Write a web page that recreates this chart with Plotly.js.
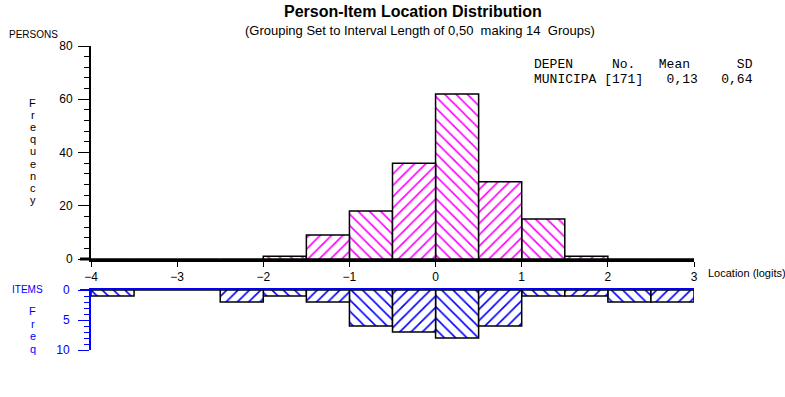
<!DOCTYPE html>
<html>
<head>
<meta charset="utf-8">
<script src="https://cdn.plot.ly/plotly-3.0.1.min.js"></script>
<style>html,body{margin:0;padding:0;background:#fff;}#chart{width:785px;height:397px;}</style>
</head>
<body>
<div id="chart"></div>
<script>
// ---- data ----
const binLower = [-4, -3.5, -3, -2.5, -2, -1.5, -1, -0.5, 0, 0.5, 1, 1.5, 2, 2.5];
const personFreq = [0, 0, 0, 0, 1, 9, 18, 36, 62, 29, 15, 1, 0, 0];
const itemFreq = [1, 0, 0, 2, 1, 2, 6, 7, 8, 6, 1, 1, 2, 2];
const xTickVals = [-4, -3, -2, -1, 0, 1, 2, 3];
const personTicks = [0, 20, 40, 60, 80];
const itemTicks = [0, 5, 10];
const statsHeader = "DEPEN     No.   Mean      SD";
const statsRow = "MUNICIPA [171]   0,13   0,64";

// ---- layout helpers (pixel -> paper) ----
const L = 91, R = 694, T = 46, B = 350;
const px = v => (v - L) / (R - L);
const py = v => (B - v) / (B - T);

const font = "Liberation Sans, Arial, sans-serif";
const mono = "Liberation Mono, DejaVu Sans Mono, monospace";
const magenta = "#ff00ff", blue = "#0000ff";

function hatchTrace(values, parity, shape, color, xa, ya) {
  return {
    type: "bar", x: binLower, y: values.map((v, i) => (i % 2 === parity ? v : null)),
    width: 0.5, offset: 0, xaxis: xa, yaxis: ya,
    marker: {color: "#ffffff", line: {color: "#000", width: 1.5},
      pattern: {shape: shape, fgcolor: color, bgcolor: "#ffffff", size: 8, solidity: 0.2}},
    hoverinfo: "skip"
  };
}

const traces = [
  hatchTrace(personFreq, 0, "\\", magenta, "x", "y"),
  hatchTrace(personFreq, 1, "/", magenta, "x", "y"),
  hatchTrace(itemFreq, 0, "\\", blue, "x2", "y2"),
  hatchTrace(itemFreq, 1, "/", blue, "x2", "y2")
];

const topDomain = [py(259), 1];
const botDomain = [0, py(290)];

const base = {xref: "paper", yref: "paper", showarrow: false, xanchor: "center", yanchor: "middle"};
const annotations = [
  {text: "<b>Person-Item Location Distribution</b>", x: px(413), y: py(12), font: {family: font, size: 16, color: "#000"}},
  {text: "(Grouping Set to Interval Length of 0,50  making 14  Groups)", x: px(420), y: py(31), font: {family: font, size: 13, color: "#000"}},
  {text: "PERSONS", x: px(7), y: py(34), xanchor: "left", font: {family: font, size: 10, color: "#000"}},
  {text: "Location (logits)", x: px(706), y: py(273), xanchor: "left", font: {family: font, size: 11, color: "#000"}},
  {text: "ITEMS", x: px(10), y: py(289), xanchor: "left", font: {family: font, size: 10, color: blue}},
  {text: statsHeader.replace(/ /g, "&nbsp;"), x: px(532), y: py(64), xanchor: "left", font: {family: mono, size: 13, color: "#000"}},
  {text: statsRow.replace(/ /g, "&nbsp;"), x: px(532), y: py(79), xanchor: "left", font: {family: mono, size: 13, color: "#000"}}
];
"Frequency".split("").forEach((c, i) => annotations.push({text: c, x: px(33), y: py(103 + 12.1 * i), font: {family: font, size: 11, color: "#000"}}));
"Freq".split("").forEach((c, i) => annotations.push({text: c, x: px(33), y: py(311 + 12.6 * i), font: {family: font, size: 11, color: blue}}));

const layout = {
  width: 785, height: 397,
  margin: {l: L, r: 785 - R, t: T, b: 397 - B, pad: 0},
  paper_bgcolor: "#fff", plot_bgcolor: "rgba(0,0,0,0)",
  showlegend: false, bargap: 0, barmode: "overlay",
  font: {family: font, size: 11, color: "#000"},
  xaxis: {
    domain: [0, 1], range: [-4, 3], anchor: "y",
    tickvals: xTickVals, ticks: "outside", ticklen: 5, tickwidth: 1, tickcolor: "#000",
    showline: true, linecolor: "#000", linewidth: 3, showgrid: false, zeroline: false,
    tickfont: {family: font, size: 12, color: "#000"}
  },
  yaxis: {
    domain: topDomain, range: [0, 80], anchor: "x",
    tickvals: personTicks, ticks: "outside", ticklen: 11, tickwidth: 1, tickcolor: "#000",
    minor: {dtick: 4, ticks: "outside", ticklen: 5, tickwidth: 1, tickcolor: "#000", showgrid: false},
    showline: true, linecolor: "#000", linewidth: 2, showgrid: false, zeroline: false,
    ticklabelstandoff: 3,
    tickfont: {family: font, size: 12, color: "#000"}
  },
  xaxis2: {
    domain: [0, 1], range: [-4, 3], anchor: "y2", side: "top",
    showticklabels: false, ticks: "",
    showline: true, linecolor: blue, linewidth: 2, showgrid: false, zeroline: false
  },
  yaxis2: {
    domain: botDomain, range: [10, 0], anchor: "x2",
    tickvals: itemTicks, ticks: "outside", ticklen: 11, tickwidth: 1, tickcolor: blue,
    minor: {dtick: 1, ticks: "outside", ticklen: 5, tickwidth: 1, tickcolor: blue, showgrid: false},
    showline: true, linecolor: blue, linewidth: 2, showgrid: false, zeroline: false,
    ticklabelstandoff: 6,
    tickfont: {family: font, size: 12, color: blue}
  },
  shapes: [
    {type: "line", xref: "paper", yref: "paper", x0: px(80), x1: px(91), y0: py(259), y1: py(259), line: {color: "#000", width: 3}},
    {type: "line", xref: "paper", yref: "paper", x0: px(80), x1: px(91), y0: py(290), y1: py(290), line: {color: blue, width: 2}}
  ],
  annotations: annotations.map(a => Object.assign({}, base, a))
};

Plotly.newPlot("chart", traces, layout, {staticPlot: true, displayModeBar: false});
</script>
</body>
</html>
